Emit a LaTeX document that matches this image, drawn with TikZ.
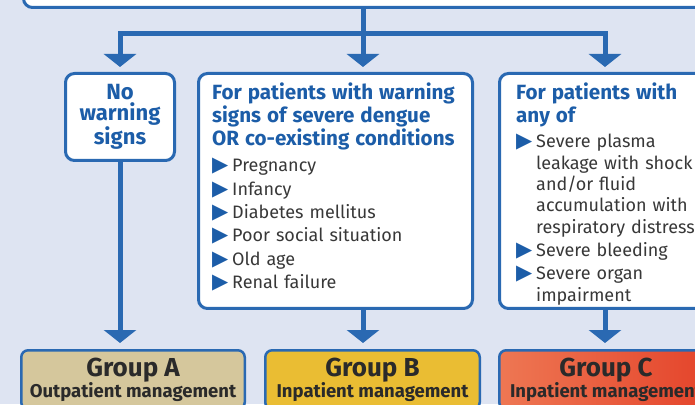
\documentclass[tikz,border=0pt]{standalone}
\usepackage{fontspec}
\setmainfont{Fira Sans}
\newfontfamily\symfont{DejaVu Sans}
\usepackage{xcolor}
\usetikzlibrary{positioning,arrows.meta,calc}
\definecolor{bgblue}{HTML}{DEE4F2}
\definecolor{lineblue}{HTML}{2A69B2}
\definecolor{titleblue}{HTML}{1C5DA8}
\definecolor{bodygrey}{HTML}{383838}
\definecolor{groupA}{HTML}{D5C79C}
\definecolor{groupB}{HTML}{EABD33}
\definecolor{groupCl}{HTML}{EE7753}
\definecolor{groupCr}{HTML}{E4432A}
\definecolor{grouptext}{HTML}{2A2A2A}
\newcommand{\tri}{\makebox[20pt][l]{\symfont\fontsize{21}{21}\selectfont\textcolor{titleblue}{▶}}}
\newcommand{\itm}[1]{\par\vspace{2pt}{\hangindent=20pt\hangafter=1\noindent\tri#1\par}}
\newcommand{\hdr}[1]{{\leavevmode\color{titleblue}\bfseries\fontsize{20.6}{23}\selectfont#1\par}}
\begin{document}
\begin{tikzpicture}[x=1pt,y=1pt,
    frame/.style={draw=lineblue, line width=3pt, fill=white, rounded corners=9pt, inner sep=0pt},
    group/.style={draw=lineblue, line width=2.5pt, rounded corners=7pt, anchor=north, align=center, text=grouptext, font=\bfseries\fontsize{18.5}{18}\selectfont, inner ysep=7.3pt},
    flow/.style={draw=lineblue, line width=5pt, -{Triangle[width=32pt,length=13pt]}},
    txt/.style={anchor=base west, inner sep=0pt, text=bodygrey, font=\fontsize{18}{21.3}\selectfont}]
\useasboundingbox (0,0) rectangle (695,404);
\clip (0,0) rectangle (695,404);
\fill[bgblue] (0,0) rectangle (695,404);
\node[frame, anchor=south west, minimum width=760pt, minimum height=80pt] (assess) at (22,395) {};
\node[frame, anchor=north west, minimum width=109pt, minimum height=87pt, align=center, text=titleblue, font=\bfseries\fontsize{22}{21}\selectfont] (nowarn) at (64,332) {No\\warning\\signs};
\node[frame, anchor=north west, minimum width=274pt, minimum height=235pt] (boxB) at (197,332) {};
\node[frame, anchor=north west, minimum width=260pt, minimum height=235pt] (boxC) at (498,332) {};
\node[txt, text width=255pt] (txtB) at ([shift={(15pt,-28pt)}]boxB.north west) {\hdr{For patients with warning\newline signs of severe dengue\newline OR co-existing conditions}\vspace{2.7pt}\itm{Pregnancy}\itm{Infancy}\itm{Diabetes mellitus}\itm{Poor social situation}\itm{Old age}\itm{Renal failure}};
\node[txt, text width=200pt] (txtC) at ([shift={(18pt,-28pt)}]boxC.north west) {\hdr{For patients with\newline any of}\vspace{1.7pt}\itm{Severe plasma\newline leakage with shock\newline and/or fluid\newline accumulation with\newline respiratory distress}\itm{Severe bleeding}\itm{Severe organ\newline impairment}};
\node[group, fill=groupA, minimum width=223.5pt] (grpA) at (133,55) {{\fontsize{26}{26}\selectfont Group A}\\Outpatient management};
\node[group, fill=groupB, minimum width=214.5pt] (grpB) at (372.5,55) {{\fontsize{26}{26}\selectfont Group B}\\Inpatient management};
\node[group, left color=groupCl, right color=groupCr, minimum width=213.5pt] (grpC) at (606,55) {{\fontsize{26}{26}\selectfont Group C}\\Inpatient management};
\coordinate (split) at (363,370.5);
\coordinate (cin) at (605,0);
\draw[flow, shorten >=5pt] (assess.south -| split) -- (split |- boxB.north);
\draw[flow, shorten >=5pt] (split) -| (nowarn.north);
\draw[flow, shorten >=5pt] (split) -| (cin |- boxC.north);
\foreach \up/\down/\via in {nowarn/grpA/nowarn, boxB/grpB/split, boxC/grpC/cin}
  \draw[flow, shorten >=6pt] (\up.south -| \via) -- (\down.north -| \via);
\end{tikzpicture}
\end{document}
